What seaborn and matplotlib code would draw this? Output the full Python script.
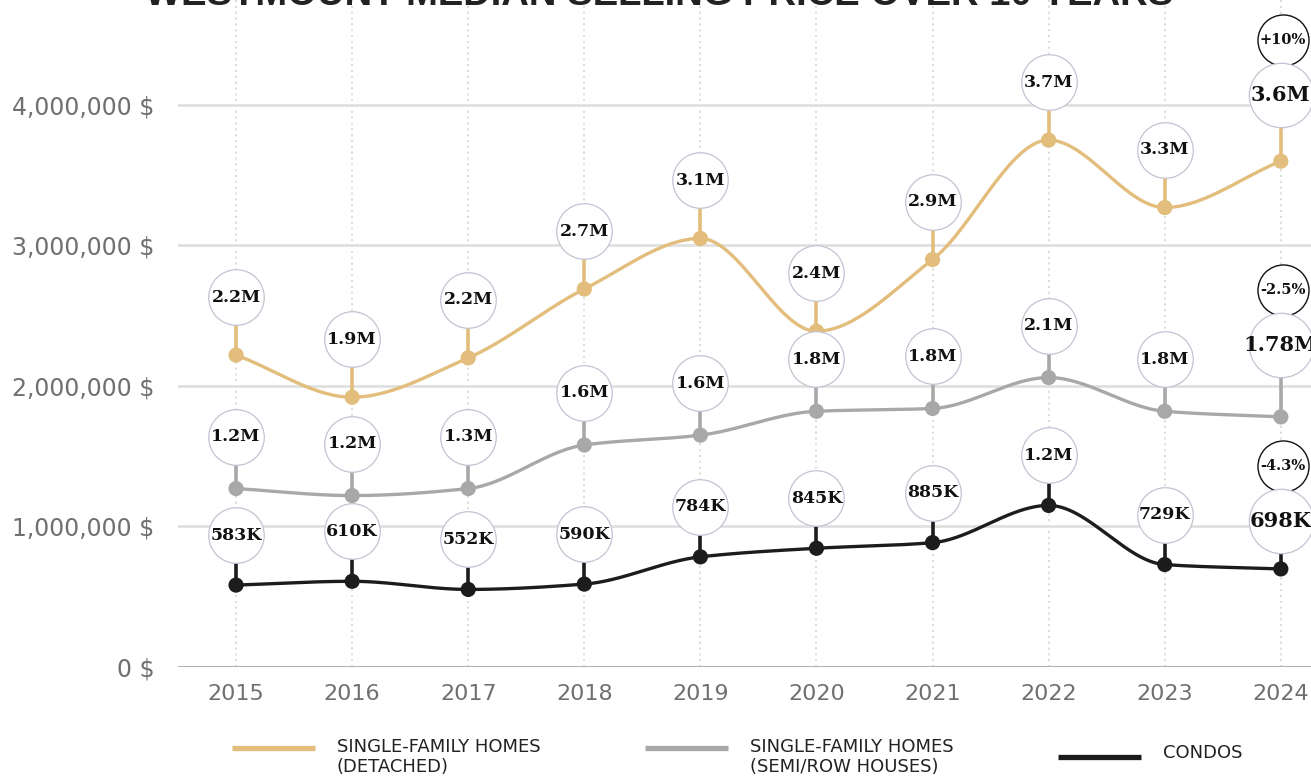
import numpy as np
import pandas as pd
import matplotlib.pyplot as plt
import seaborn as sns
from matplotlib.lines import Line2D

# Values
years = [2015, 2016, 2017, 2018, 2019, 2020, 2021, 2022, 2023, 2024]
detached = [2.22e6, 1.92e6, 2.20e6, 2.69e6, 3.05e6, 2.39e6, 2.90e6, 3.75e6, 3.27e6, 3.60e6]
semi = [1.27e6, 1.22e6, 1.27e6, 1.58e6, 1.65e6, 1.82e6, 1.84e6, 2.06e6, 1.82e6, 1.78e6]
condos = [583e3, 610e3, 552e3, 590e3, 784e3, 845e3, 885e3, 1.15e6, 729e3, 698e3]

detached_labels = ["2.2M", "1.9M", "2.2M", "2.7M", "3.1M", "2.4M", "2.9M", "3.7M", "3.3M", "3.6M"]
semi_labels = ["1.2M", "1.2M", "1.3M", "1.6M", "1.6M", "1.8M", "1.8M", "2.1M", "1.8M", "1.78M"]
condo_labels = ["583K", "610K", "552K", "590K", "784K", "845K", "885K", "1.2M", "729K", "698K"]
last_change = ["+10%", "-2.5%", "-4.3%"]

series_names = ["SINGLE-FAMILY HOMES\n(DETACHED)", "SINGLE-FAMILY HOMES\n(SEMI/ROW HOUSES)", "CONDOS"]
colors = ["#e2bd7b", "#a8a8a8", "#1c1c1c"]
y_ticks = [0, 1e6, 2e6, 3e6, 4e6]
y_ticklabels = ["0 $", "1,000,000 $", "2,000,000 $", "3,000,000 $", "4,000,000 $"]


def monotone_curve(x, y, n=60):
    # monotone cubic (Fritsch-Carlson) so the line is smooth but never overshoots
    x = np.asarray(x, float)
    y = np.asarray(y, float)
    h = np.diff(x)
    d = np.diff(y) / h
    m = np.zeros_like(y)
    m[0], m[-1] = d[0], d[-1]
    for i in range(1, len(y) - 1):
        if d[i - 1] * d[i] <= 0:
            m[i] = 0
        else:
            m[i] = 3 * (h[i - 1] + h[i]) / ((2 * h[i] + h[i - 1]) / d[i - 1] + (h[i] + 2 * h[i - 1]) / d[i])
    xs, ys = [], []
    for i in range(len(h)):
        t = np.linspace(0, 1, n, endpoint=False)
        h00 = 2 * t**3 - 3 * t**2 + 1
        h10 = t**3 - 2 * t**2 + t
        h01 = -2 * t**3 + 3 * t**2
        h11 = t**3 - t**2
        xs.append(x[i] + t * h[i])
        ys.append(h00 * y[i] + h10 * h[i] * m[i] + h01 * y[i + 1] + h11 * h[i] * m[i + 1])
    xs.append([x[-1]])
    ys.append([y[-1]])
    return np.concatenate(xs), np.concatenate(ys)


points = pd.concat([
    pd.DataFrame({"Year": years, "Price": vals, "Series": name})
    for name, vals in zip(series_names, [detached, semi, condos])
])
curves = []
for name, vals in zip(series_names, [detached, semi, condos]):
    cx, cy = monotone_curve(years, vals)
    curves.append(pd.DataFrame({"Year": cx, "Price": cy, "Series": name}))
curves = pd.concat(curves)

sns.set_theme(style="white")
plt.rcParams["font.family"] = ["DejaVu Sans"]

W, H = 1311, 777
fig = plt.figure(figsize=(W / 100, H / 100), dpi=100)
ax = fig.add_axes([178 / W, 1 - 667 / H, 1 - 178 / W, 667 / H])

ymax = 4.747e6
ax.set_ylim(0, ymax)
ax.set_xlim(2014.5, 2024.26)
px_per_unit = 667 / ymax

palette = dict(zip(series_names, colors))
sns.lineplot(data=curves, x="Year", y="Price", hue="Series", palette=palette,
             linewidth=2.4, legend=False, ax=ax, zorder=3, sort=False)
sns.scatterplot(data=points, x="Year", y="Price", hue="Series", palette=palette,
                s=120, linewidth=0, legend=False, ax=ax, zorder=4)

# grid
for t in y_ticks:
    ax.axhline(t, color="#a9a9a9" if t == 0 else "#e0e0e0", lw=2, zorder=1)
for yr in years:
    ax.axvline(yr, color="#dadada", lw=1.4, ls=(0, (1, 2)), zorder=0.5)

serif = ["DejaVu Serif"]
offsets = [58, 52, 50]
last_offsets = [66, 72, 48]
for k, (vals, labels) in enumerate(zip([detached, semi, condos], [detached_labels, semi_labels, condo_labels])):
    for i, (yr, v, lab) in enumerate(zip(years, vals, labels)):
        last = i == len(years) - 1
        off = (last_offsets[k] if last else offsets[k]) / px_per_unit
        cy = v + off
        ax.plot([yr, yr], [v, cy], color=colors[k], lw=2.6, zorder=3.5, solid_capstyle="butt")
        if last:
            pc = cy + 55 / px_per_unit
            ax.scatter([yr + 0.02], [pc], s=1350, facecolor="white", edgecolor="#111111",
                       linewidth=1.0, zorder=5, clip_on=False)
            ax.text(yr + 0.02, pc, last_change[k], ha="center", va="center", fontsize=10.5,
                    fontweight="bold", family=serif, color="#111111", zorder=5.5, clip_on=False)
        ax.scatter([yr], [cy], s=2150 if last else 1600, facecolor="white", edgecolor="#c3c3d3",
                   linewidth=0.9, zorder=6, clip_on=False)
        ax.text(yr, cy, lab, ha="center", va="center", fontsize=15 if last else 12.5,
                fontweight="heavy", family=serif, color="#111111", zorder=7, clip_on=False)

ax.set_xticks(years)
ax.set_xticklabels([str(y) for y in years])
ax.set_yticks(y_ticks)
ax.set_yticklabels(y_ticklabels)
ax.tick_params(axis="both", length=0, labelcolor="#707070")
ax.tick_params(axis="x", pad=12, labelsize=16)
ax.tick_params(axis="y", pad=17, labelsize=17)
ax.set_xlabel("")
ax.set_ylabel("")
for s in ax.spines.values():
    s.set_visible(False)
ax.grid(False)

# title sits mostly above the top edge, as in the reference
fig.text(0.503, 1 - 5 / H, "WESTMOUNT MEDIAN SELLING PRICE OVER 10 YEARS", ha="center", va="baseline",
         fontsize=27.5, fontweight="bold", family=["Liberation Sans"], color="#222222")

# legend drawn by hand along the bottom
legend_x = [232, 645, 1058]
legend_y = [748, 748, 757]
for x0, y0, c, name in zip(legend_x, legend_y, colors, series_names):
    fig.add_artist(Line2D([x0 / W, (x0 + 83) / W], [1 - y0 / H, 1 - y0 / H], color=c, lw=3.8,
                          solid_capstyle="butt"))
    ty = 757 if "\n" in name else 753
    fig.text((x0 + 105) / W, 1 - ty / H, name, ha="left", va="center", fontsize=13,
             color="#222222", linespacing=1.1)

fig.savefig("out.png", dpi=100)
